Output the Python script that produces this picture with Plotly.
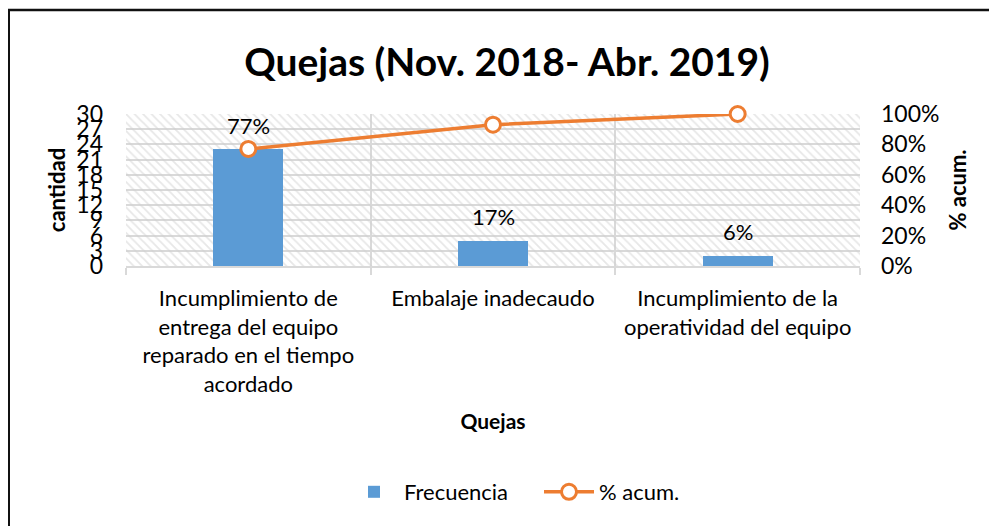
import plotly.graph_objects as go

categories = [
    "Incumplimiento de<br>entrega del equipo<br>reparado en el tiempo<br>acordado",
    "Embalaje inadecaudo",
    "Incumplimiento de la<br>operatividad del equipo",
]
frecuencia = [23, 5, 2]
pct_labels = ["77%", "17%", "6%"]
pct_acum = [0.77, 0.93, 1.00]
y_max = 30
y_dtick = 3

# the page adds an 8px body margin, so the figure is drawn 8px smaller
OFF = 8
W, H = 997 - OFF, 526 - OFF
ML, MR, MT, MB = 126 - OFF, 137, 114 - OFF, 260
PW, PH = W - ML - MR, H - MT - MB

def px_x(px):
    return (px - OFF - ML) / PW

def px_y(py):
    return (H - MB - (py - OFF)) / PH

FONT = "Lato"
BLUE = "#5B9BD5"
ORANGE = "#ED7D31"
GRID = "#D9D9D9"

fig = go.Figure()

# hatched plot background
fig.add_trace(go.Bar(
    x=categories, y=[y_max] * len(categories), width=1,
    marker=dict(color="rgba(0,0,0,0)", line=dict(width=0),
                pattern=dict(shape="\\", fgcolor="#cfcfcf", bgcolor="rgba(0,0,0,0)",
                             size=6, solidity=0.3, fillmode="overlay")),
    showlegend=False, hoverinfo="skip",
))

fig.add_trace(go.Bar(
    x=categories, y=frecuencia, name="Frecuencia", width=0.286,
    marker=dict(color=BLUE, line=dict(width=0)),
))

fig.add_trace(go.Scatter(
    x=categories, y=pct_acum, name="% acum.", yaxis="y2",
    mode="lines+markers", cliponaxis=False,
    line=dict(color=ORANGE, width=3.5),
    marker=dict(size=15, color="white", line=dict(color=ORANGE, width=3)),
))

for c, v, t in zip(categories, frecuencia, pct_labels):
    fig.add_annotation(x=c, y=v, text=t, showarrow=False, yanchor="middle",
                       yshift=24, font=dict(family=FONT, size=22, color="#000"))

# outer chart border (top and left visible)
fig.add_shape(type="line", xref="paper", yref="paper",
              x0=px_x(8.5), x1=px_x(8.5), y0=px_y(9), y1=px_y(540),
              line=dict(color="#111", width=3))
fig.add_shape(type="line", xref="paper", yref="paper",
              x0=px_x(7), x1=px_x(1010), y0=px_y(10), y1=px_y(10),
              line=dict(color="#111", width=2.5))

fig.update_layout(
    width=W, height=H,
    margin=dict(l=ML, r=MR, t=MT, b=MB, autoexpand=False),
    paper_bgcolor="white", plot_bgcolor="white",
    barmode="overlay", bargap=0,
    font=dict(family=FONT, size=22, color="#000"),
    title=dict(text="<b>Quejas (Nov. 2018- Abr. 2019)</b>",
               x=(507 - OFF) / W, xanchor="center", y=1 - (62 - OFF) / H, yanchor="middle",
               xref="container", yref="container",
               font=dict(family=FONT, size=39, color="#000")),
    showlegend=True,
    legend=dict(orientation="h", xref="container", yref="container",
                x=(344 - OFF) / W, xanchor="left", y=1 - (492 - OFF) / H, yanchor="middle",
                font=dict(family=FONT, size=22, color="#000"),
                traceorder="normal", itemwidth=50, entrywidth=130),
    xaxis=dict(
        showgrid=True, gridcolor=GRID, gridwidth=1.5,
        tickson="boundaries", ticks="outside", ticklen=7, tickcolor=GRID, tickwidth=1.5,
        showline=True, linecolor=GRID, linewidth=1.5, tickangle=0,
        ticklabelstandoff=12,
        tickfont=dict(family=FONT, size=22, color="#000"),
        title=dict(text="<b>Quejas</b>", standoff=18,
                   font=dict(family=FONT, size=21, color="#000")),
        automargin=False, fixedrange=True,
    ),
    yaxis=dict(
        range=[0, y_max], dtick=y_dtick, tick0=0,
        showgrid=True, gridcolor=GRID, gridwidth=2,
        zeroline=False, showline=False, ticks="",
        ticklabelstandoff=22,
        tickfont=dict(family=FONT, size=23, color="#000"),
        title=dict(text="<b>cantidad</b>", standoff=4,
                   font=dict(family=FONT, size=22, color="#000")),
        automargin=False, fixedrange=True,
    ),
    yaxis2=dict(
        overlaying="y", side="right", range=[0, 1], dtick=0.2, tick0=0,
        tickformat=".0%", showgrid=False, zeroline=False, showline=False, ticks="",
        ticklabelstandoff=20,
        tickfont=dict(family=FONT, size=23, color="#000"),
        title=dict(text="<b>% acum.</b>", standoff=12,
                   font=dict(family=FONT, size=22, color="#000")),
        automargin=False, fixedrange=True,
    ),
)

fig.write_html("out.html")
